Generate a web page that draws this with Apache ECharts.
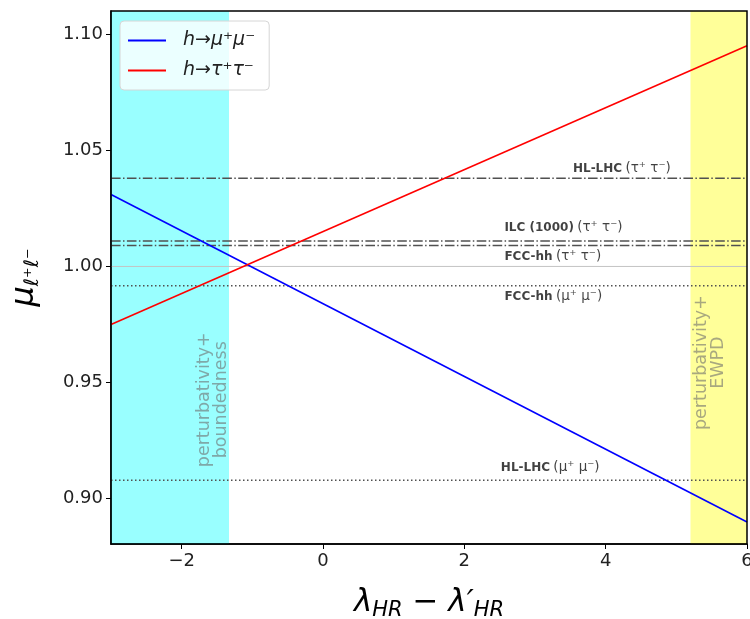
<!DOCTYPE html>
<html><head><meta charset="utf-8">
<script src="https://cdn.jsdelivr.net/npm/echarts@6/dist/echarts.min.js"></script>
<style>html,body{margin:0;padding:0;background:#fff}#c{width:750px;height:619px}</style>
</head><body><div id="c"></div>
<script>
// ---- data ----
const xTicks = [-2, 0, 2, 4, 6];
const yTicks = [0.90, 0.95, 1.00, 1.05, 1.10];
const xLimits = [-3, 6];
const yLimits = [0.8805, 1.110];
const muX = [-3, 6];
const muY = [1.031, 0.890];
const tauX = [-3, 6];
const tauY = [0.975, 1.095];
const seriesNames = ['h→μ⁺μ⁻', 'h→τ⁺τ⁻'];
const boundLevels = [1.038, 1.011, 1.009, 0.9917, 0.908];
const boundNames = ['HL-LHC', 'ILC (1000)', 'FCC-hh', 'FCC-hh', 'HL-LHC'];
const boundChannels = ['(τ⁺ τ⁻)', '(τ⁺ τ⁻)', '(τ⁺ τ⁻)', '(μ⁺ μ⁻)', '(μ⁺ μ⁻)'];
const boundTypes = ['dashdot', 'dashdot', 'dashdot', 'dotted', 'dotted'];
const labelX = [3.53, 2.56, 2.56, 2.56, 2.51];
const labelY = [1.0421, 1.0167, 1.0042, 0.9871, 0.9133];
const smLevel = 1.0;
const regionNames = ['perturbativity+\nboundedness', 'perturbativity+\nEWPD'];
const regionFrom = [-3, 5.2];
const regionTo = [-1.33, 6];
const regionTextX = [-1.556, 5.47];
const regionTextY = [0.9426, 0.9586];

// ---- styles ----
const FONT = 'DejaVu Sans';
const regionColors = ['rgba(0,255,255,0.4)', 'rgba(255,255,0,0.4)'];
const dashStyles = { dashdot: [9.6, 2.4, 1.5, 2.4], dotted: [1.5, 2.5] };
const minus = v => String(v).replace('-', '−');

const chart = echarts.init(document.getElementById('c'), null, { renderer: 'canvas' });

const series = [];
series.push({
  type: 'line', data: [], silent: true, z: 0,
  markArea: {
    silent: true,
    data: regionFrom.map((f, i) => [
      { xAxis: f, itemStyle: { color: regionColors[i] } },
      { xAxis: regionTo[i] }
    ])
  }
});
series.push({
  type: 'line', data: [[xLimits[0], smLevel], [xLimits[1], smLevel]],
  symbol: 'none', silent: true, z: 2,
  lineStyle: { color: '#c4c4c4', width: 1 }
});
boundLevels.forEach((v, i) => {
  series.push({
    type: 'line', data: [[xLimits[0], v], [xLimits[1], v]],
    symbol: 'none', silent: true, z: 3,
    lineStyle: { color: '#505050', width: 1.5, type: dashStyles[boundTypes[i]] }
  });
});
series.push({
  name: seriesNames[0], type: 'line', data: muX.map((x, i) => [x, muY[i]]),
  symbol: 'none', z: 5, color: '#0000ff', lineStyle: { color: '#0000ff', width: 1.6 }
});
series.push({
  name: seriesNames[1], type: 'line', data: tauX.map((x, i) => [x, tauY[i]]),
  symbol: 'none', z: 5, color: '#ff0000', lineStyle: { color: '#ff0000', width: 1.6 }
});
series.push({
  type: 'scatter', silent: true, z: 6, symbolSize: 1,
  itemStyle: { color: 'rgba(0,0,0,0)' },
  data: labelX.map((x, i) => [x, labelY[i]]),
  label: {
    show: true, position: 'right', distance: 0,
    formatter: p => '{b|' + boundNames[p.dataIndex] + '} {n|' + boundChannels[p.dataIndex] + '}',
    rich: {
      b: { fontFamily: FONT, fontSize: 12, fontWeight: 'bold', color: '#111' },
      n: { fontFamily: FONT, fontSize: 13.5, color: '#111' }
    }
  }
});
series.push({
  type: 'scatter', silent: true, z: 6, symbolSize: 1,
  itemStyle: { color: 'rgba(0,0,0,0)' },
  data: regionTextX.map((x, i) => [x, regionTextY[i]]),
  label: {
    show: true, position: 'inside', rotate: 90, align: 'center', verticalAlign: 'middle',
    formatter: p => regionNames[p.dataIndex],
    fontFamily: FONT, fontSize: 17.5, lineHeight: 17, color: 'rgba(110,110,110,0.75)'
  }
});

chart.setOption({
  animation: false,
  backgroundColor: '#fff',
  grid: { left: 111, right: 3, top: 11, bottom: 75, outerBoundsMode: 'none', containLabel: false,
          show: true, borderColor: '#000', borderWidth: 1.5, backgroundColor: 'transparent', z: 10 },
  legend: {
    data: seriesNames, left: 120, top: 21, orient: 'vertical',
    padding: [10, 14, 10, 8], itemGap: 11, itemWidth: 38, itemHeight: 2, icon: 'rect',
    backgroundColor: 'rgba(255,255,255,0.8)', borderColor: '#d6d6d6', borderWidth: 1, borderRadius: 4,
    textStyle: { fontFamily: FONT, fontSize: 19, fontStyle: 'italic', color: '#222', padding: [0, 0, 0, 12] }
  },
  xAxis: {
    type: 'value', min: xLimits[0], max: xLimits[1],
    splitLine: { show: false },
    axisLine: { show: true, onZero: false, lineStyle: { color: '#000', width: 1.5 } },
    axisTick: { show: true, length: 5, customValues: xTicks, lineStyle: { color: '#000' } },
    axisLabel: { customValues: xTicks, formatter: v => minus(v), fontFamily: FONT, fontSize: 18, color: '#222', margin: 8 },
    name: '{l|λ}{s|HR}{l| − λ′}{s|HR}', nameLocation: 'middle', nameGap: 40,
    nameTextStyle: {
      rich: {
        l: { fontFamily: FONT, fontSize: 31, fontStyle: 'italic', color: '#000' },
        s: { fontFamily: FONT, fontSize: 21, fontStyle: 'italic', color: '#000', padding: [16, 0, 0, 0] }
      }
    }
  },
  yAxis: {
    type: 'value', min: yLimits[0], max: yLimits[1],
    splitLine: { show: false },
    axisLine: { show: true, onZero: false, lineStyle: { color: '#000', width: 1.5 } },
    axisTick: { show: true, length: 5, customValues: yTicks, lineStyle: { color: '#000' } },
    axisLabel: { customValues: yTicks, formatter: v => v.toFixed(2), fontFamily: FONT, fontSize: 18, color: '#222', margin: 8 },
    name: '{m|μ}{s|ℓ⁺ℓ⁻}', nameLocation: 'middle', nameGap: 68,
    nameTextStyle: {
      rich: {
        m: { fontFamily: FONT, fontSize: 32, fontStyle: 'italic', color: '#000' },
        s: { fontFamily: FONT, fontSize: 20, fontStyle: 'italic', color: '#000', padding: [16, 0, 0, 0] }
      }
    }
  },
  series: series
});
</script>
</body></html>
